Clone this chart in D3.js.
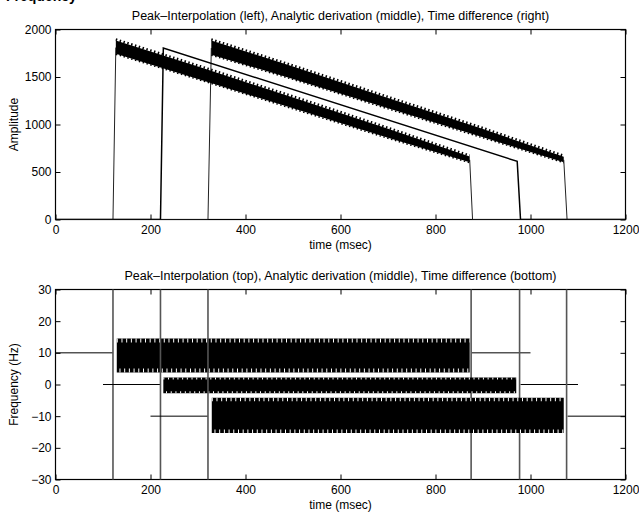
<!DOCTYPE html>
<html>
<head>
<meta charset="utf-8">
<script src="https://cdn.jsdelivr.net/npm/d3@7"></script>
<style>
  body { margin: 0; background: #fff; }
  svg { font-family: "Liberation Sans", Arial, Helvetica, sans-serif; }
</style>
</head>
<body>
<div id="chart"></div>
<script>
// ticks
const timeTicks = [0, 200, 400, 600, 800, 1000, 1200];
const ampTicks = [0, 500, 1000, 1500, 2000];
const freqTicks = [-30, -20, -10, 0, 10, 20, 30];

// amplitude, peak interpolation (left)
const ampPeakRise = [[0, 0], [121, 0], [127, 1810]];
const ampPeakUpper = [[127, 1885], [300, 1610], [500, 1285], [700, 955], [872, 662]];
const ampPeakLower = [[127, 1745], [300, 1480], [500, 1170], [700, 860], [872, 603]];
const ampPeakFall = [[872, 628], [878, 0], [1200, 0]];

// amplitude, analytic derivation (middle)
const ampAnalytic = [[0, 0], [221, 0], [227, 1805], [972, 612], [979, 0], [1200, 0]];

// amplitude, time difference (right)
const ampTimeRise = [[0, 0], [321, 0], [328, 1805]];
const ampTimeUpper = [[328, 1885], [500, 1610], [700, 1280], [900, 952], [1070, 660]];
const ampTimeLower = [[328, 1735], [500, 1480], [700, 1170], [900, 865], [1070, 603]];
const ampTimeFall = [[1070, 628], [1077, 0], [1200, 0]];

// frequency, peak interpolation (top)
const freqPeakLevels = [[[0, 10], [121, 10]], [[876, 10], [1000, 10]]];
const freqPeakSpikes = [121, 875];
const freqPeakUpper = [[129, 14.5], [872, 14.5]];
const freqPeakLower = [[129, 3.8], [872, 3.8]];

// frequency, analytic derivation (middle)
const freqAnaLevels = [[[100, 0], [221, 0]], [[979, 0], [1100, 0]]];
const freqAnaSpikes = [221, 977];
const freqAnaUpper = [[227, 2.2], [970, 2.2]];
const freqAnaLower = [[227, -2.8], [970, -2.8]];

// frequency, time difference (bottom)
const freqTimeLevels = [[[200, -10], [321, -10]], [[1078, -10], [1200, -10]]];
const freqTimeSpikes = [321, 1076];
const freqTimeUpper = [[329, -4.2], [1070, -4.2]];
const freqTimeLower = [[329, -15.3], [1070, -15.3]];

const W = 639, H = 515;
const left = 55.5, right = 625.5;

const svg = d3.select("#chart").append("svg")
    .attr("width", W)
    .attr("height", H);

// heading from the page above, cut by the top edge as in the scan
svg.append("text")
    .attr("x", 6).attr("y", 1)
    .style("font-weight", "bold")
    .style("font-size", "14px")
    .text("Frequency");

const x = d3.scaleLinear().domain([0, 1200]).range([left, right]);
const fmt = d => d < 0 ? "\u2212" + Math.abs(d) : String(d);

function makeAxes(top, bottom, yDomain, yTicks, title, ylabel, id) {
    const y = d3.scaleLinear().domain(yDomain).range([bottom, top]);
    const g = svg.append("g");

    g.append("clipPath").attr("id", id)
        .append("rect")
        .attr("x", left).attr("y", top)
        .attr("width", right - left).attr("height", bottom - top);

    const ax = g.append("g").attr("transform", `translate(0,${bottom})`)
        .call(d3.axisBottom(x).tickValues(timeTicks).tickSize(-5).tickPadding(4).tickFormat(fmt));
    ax.selectAll("text").attr("dy", "0.85em");
    g.append("g").attr("transform", `translate(0,${top})`)
        .call(d3.axisTop(x).tickValues(timeTicks).tickSize(-5).tickFormat(""));
    g.append("g").attr("transform", `translate(${left},0)`)
        .call(d3.axisLeft(y).tickValues(yTicks).tickSize(-5).tickPadding(4).tickFormat(fmt));
    g.append("g").attr("transform", `translate(${right},0)`)
        .call(d3.axisRight(y).tickValues(yTicks).tickSize(-5).tickFormat(""));

    g.selectAll(".domain").remove();
    g.selectAll(".tick line").attr("stroke", "#000");
    g.selectAll(".tick text").style("font-size", "12px").attr("fill", "#000")
        .style("font-family", "'Liberation Sans', Arial, sans-serif");

    g.append("rect")
        .attr("x", left).attr("y", top)
        .attr("width", right - left).attr("height", bottom - top)
        .attr("fill", "none").attr("stroke", "#000").attr("stroke-width", 1.2);

    g.append("text")
        .attr("x", (left + right) / 2).attr("y", top - 10)
        .attr("text-anchor", "middle")
        .style("font-size", "12.5px")
        .text(title);

    g.append("text")
        .attr("x", (left + right) / 2).attr("y", bottom + 29)
        .attr("text-anchor", "middle")
        .style("font-size", "12px")
        .text("time (msec)");

    g.append("text")
        .attr("transform", `translate(18,${(top + bottom) / 2}) rotate(-90)`)
        .attr("text-anchor", "middle")
        .style("font-size", "12px")
        .text(ylabel);

    const plot = g.append("g").attr("clip-path", `url(#${id})`);
    return { y, plot };
}

// ---- top: amplitude ----
const A = makeAxes(29.5, 219.5, [0, 2000], ampTicks,
    "Peak\u2013Interpolation (left), Analytic derivation (middle), Time difference (right)",
    "Amplitude", "clipA");

const lineA = d3.line().x(d => x(d[0])).y(d => A.y(d[1]));

function ampBand(upper, lower) {
    const band = upper.map((d, i) => ({ t: d[0], hi: d[1], lo: lower[i][1] }));
    A.plot.append("path")
        .datum(band)
        .attr("fill", "#000")
        .attr("d", d3.area().x(d => x(d.t)).y0(d => A.y(d.lo)).y1(d => A.y(d.hi)));
    // serrated peaks along the edges
    A.plot.append("path")
        .datum(upper)
        .attr("fill", "none").attr("stroke", "#000")
        .attr("stroke-width", 2.5).attr("stroke-dasharray", "1.5,2.5")
        .attr("transform", "translate(0,-1)")
        .attr("d", lineA);
    A.plot.append("path")
        .datum(lower)
        .attr("fill", "none").attr("stroke", "#000")
        .attr("stroke-width", 1.5).attr("stroke-dasharray", "1.5,2.5")
        .attr("transform", "translate(0,0.5)")
        .attr("d", lineA);
}

[ampPeakRise, ampPeakFall, ampTimeRise, ampTimeFall].forEach(s => {
    A.plot.append("path").datum(s)
        .attr("fill", "none").attr("stroke", "#222").attr("stroke-width", 1)
        .attr("d", lineA);
});
ampBand(ampPeakUpper, ampPeakLower);
ampBand(ampTimeUpper, ampTimeLower);
A.plot.append("path").datum(ampAnalytic)
    .attr("fill", "none").attr("stroke", "#000").attr("stroke-width", 1.5)
    .attr("d", lineA);

// ---- bottom: frequency ----
const F = makeAxes(289.5, 479.5, [-30, 30], freqTicks,
    "Peak\u2013Interpolation (top), Analytic derivation (middle), Time difference (bottom)",
    "Frequency (Hz)", "clipF");

const lineF = d3.line().x(d => x(d[0])).y(d => F.y(d[1]));

function freqSeries(levels, spikes, upper, lower, notch) {
    levels.forEach(s => {
        F.plot.append("path").datum(s)
            .attr("fill", "none").attr("stroke", "#000").attr("stroke-width", 1)
            .attr("d", lineF);
    });
    spikes.forEach(t => {
        F.plot.append("line")
            .attr("x1", x(t)).attr("x2", x(t))
            .attr("y1", F.y(-60)).attr("y2", F.y(60))
            .attr("stroke", "#555").attr("stroke-width", 1.6);
    });
    const band = upper.map((d, i) => ({ t: d[0], hi: d[1], lo: lower[i][1] }));
    F.plot.append("path")
        .datum(band)
        .attr("fill", "#000")
        .attr("d", d3.area().x(d => x(d.t)).y0(d => F.y(d.lo)).y1(d => F.y(d.hi)));
    // white slits at the band edges
    F.plot.append("path").datum(upper)
        .attr("fill", "none").attr("stroke", "#fff")
        .attr("stroke-width", notch).attr("stroke-dasharray", "1,3.7")
        .attr("transform", `translate(0,${notch / 2})`)
        .attr("d", lineF);
    F.plot.append("path").datum(lower)
        .attr("fill", "none").attr("stroke", "#fff")
        .attr("stroke-width", notch).attr("stroke-dasharray", "1,3.7")
        .attr("stroke-dashoffset", 2)
        .attr("transform", `translate(0,${-notch / 2})`)
        .attr("d", lineF);
}

freqSeries(freqPeakLevels, freqPeakSpikes, freqPeakUpper, freqPeakLower, 4);
freqSeries(freqAnaLevels, freqAnaSpikes, freqAnaUpper, freqAnaLower, 2);
freqSeries(freqTimeLevels, freqTimeSpikes, freqTimeUpper, freqTimeLower, 3.5);
</script>
</body>
</html>
